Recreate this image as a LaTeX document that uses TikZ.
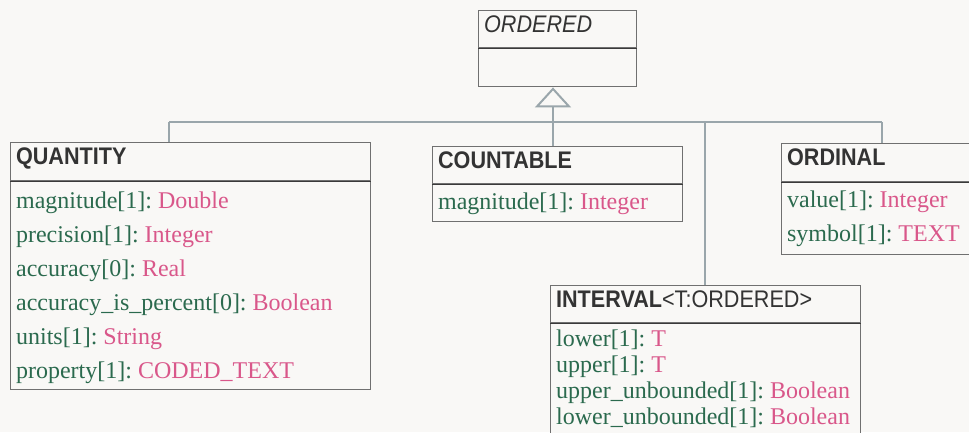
\documentclass[tikz,border=0pt]{standalone}
\usepackage{fontspec}
\setmainfont{Liberation Serif}
\newfontfamily\headfont[FakeStretch=0.9]{Liberation Sans}
\usetikzlibrary{arrows.meta,positioning}
\definecolor{paper}{HTML}{F9F8F6}
\definecolor{frame}{HTML}{707070}
\definecolor{rule}{HTML}{3A3A3A}
\definecolor{wire}{HTML}{9AA6AB}
\definecolor{fieldc}{HTML}{2B6A4E}
\definecolor{typec}{HTML}{D9578A}
\definecolor{titlec}{HTML}{333333}
\newcommand{\field}[2]{{\color{fieldc}#1:}~{\color{typec}#2}}

\begin{document}
\begin{tikzpicture}[x=1pt,y=-1pt,
  classhead/.style={draw=frame,line width=1.2pt,fill=paper,anchor=north west,minimum height=38pt,inner xsep=5.5pt,text width=#1,align=flush left,text height=16pt,text depth=10pt,text=titlec,font=\headfont\fontsize{24}{28}\selectfont},
  classbody/.style={draw=frame,line width=1.2pt,fill=paper,inner xsep=5.5pt,text width=#1,align=flush left,font=\fontsize{24}{34}\selectfont},
  wire/.style={draw=wire,line width=2pt}]
\path[use as bounding box,fill=paper] (0,0) rectangle (969,432);
\clip (0,0) rectangle (969,432);
% connectors
\coordinate (hub) at (553,122);
\coordinate (busQ) at (169,122);
\coordinate (busI) at (705,122);
\coordinate (busO) at (882,122);
% classes
\node[classhead=147pt,minimum height=37pt] (ordhead) at (478,10){\itshape ORDERED};
\node[classbody=147pt,minimum height=38pt,below=0pt of ordhead] (ordbody){};
\node[classhead=349pt] (qhead) at (10,142){\bfseries QUANTITY};
\node[classbody=349pt,minimum height=208pt,below=0pt of qhead] (qbody){\rule{0pt}{20pt}\field{magnitude[1]}{Double}\\ \field{precision[1]}{Integer}\\ \field{accuracy[0]}{Real}\\ \field{accuracy\_is\_percent[0]}{Boolean}\\ \field{units[1]}{String}\\ \field{property[1]}{CODED\_TEXT}};
\node[classhead=239pt,minimum height=37pt] (chead) at (432,146){\bfseries COUNTABLE};
\node[classbody=239pt,minimum height=37pt,below=0pt of chead] (cbody){\field{magnitude[1]}{Integer}};
\node[classhead=189pt] (dhead) at (781,143){\bfseries ORDINAL};
\node[classbody=189pt,minimum height=72pt,below=0pt of dhead] (dbody){\field{value[1]}{Integer}\\ \field{symbol[1]}{TEXT}};
\node[classhead=299pt,minimum height=37pt] (ihead) at (550,285){{\bfseries INTERVAL}<T:ORDERED>};
\node[classbody=299pt,minimum height=110pt,below=0pt of ihead,font=\fontsize{24}{26.2}\selectfont] (ibody){\field{lower[1]}{T}\\ \field{upper[1]}{T}\\ \field{upper\_unbounded[1]}{Boolean}\\ \field{lower\_unbounded[1]}{Boolean}};
\foreach \h in {ordhead,qhead,chead,dhead,ihead}{\draw[rule,line width=1.2pt] (\h.south west)--(\h.south east);}
% generalisation
\draw[wire,-{Triangle[open,length=20pt,width=36pt]}] (hub)--(hub |- ordbody.south);
\draw[wire] (busQ)--(busO);
\draw[wire] (busQ)--(busQ |- qhead.north);
\draw[wire] (hub)--(hub |- chead.north);
\draw[wire] (busI)--(busI |- ihead.north);
\draw[wire] (busO)--(busO |- dhead.north);
\end{tikzpicture}
\end{document}
